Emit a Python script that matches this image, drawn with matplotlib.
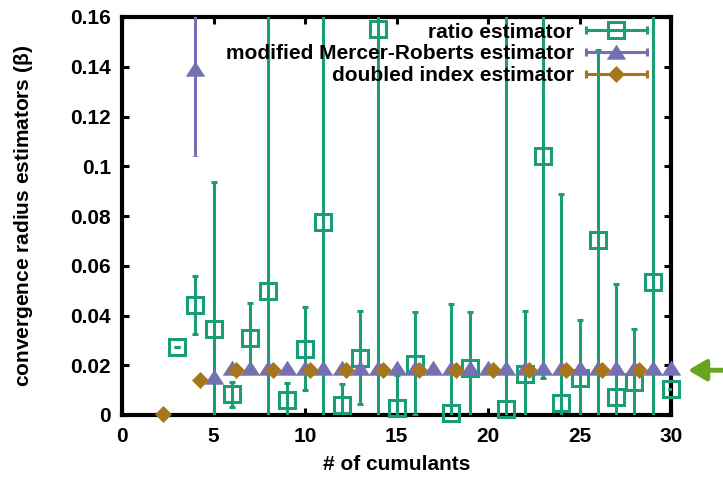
import matplotlib
matplotlib.use("Agg")
import matplotlib.pyplot as plt
from matplotlib.lines import Line2D
from matplotlib.legend_handler import HandlerLine2D, HandlerTuple
from matplotlib.ticker import FuncFormatter

plt.rcParams['font.family'] = ['Liberation Sans', 'DejaVu Sans']
plt.rcParams['font.weight'] = 'bold'
plt.rcParams['font.size'] = 15
plt.rcParams['mathtext.fontset'] = 'custom'
plt.rcParams['mathtext.rm'] = 'Liberation Sans'

# ratio estimator
ratio_n = [3, 4, 5, 6, 7, 8, 9, 10, 11, 12, 13, 14, 15, 16, 18, 19, 21, 22, 23,
           24, 25, 26, 27, 28, 29, 30]
ratio_val = [0.0273, 0.0443, 0.0344, 0.0084, 0.0311, 0.0500, 0.0060, 0.0267,
             0.0776, 0.0040, 0.0231, 0.1550, 0.0027, 0.0207, 0.0007, 0.0187,
             0.0023, 0.0164, 0.1040, 0.0047, 0.0147, 0.0703, 0.0073, 0.0131,
             0.0533, 0.0103]
ratio_err = [0.0, 0.0117, 0.0592, 0.0050, 0.0140, 0.25, 0.0067, 0.0167,
             0.25, 0.0084, 0.0188, 0.25, 0.0133, 0.0206, 0.0440, 0.0226,
             0.25, 0.0256, 0.0893, 0.0840, 0.0233, 0.0764, 0.0454, 0.0216,
             0.25, 0.0]

# modified Mercer-Roberts estimator
mmr_n = [4, 5, 6, 7, 8, 9, 10, 11, 12, 13, 14, 15, 16, 17, 18, 19, 20, 21, 22,
         23, 24, 25, 26, 27, 28, 29, 30]
mmr_val = [0.139, 0.0153, 0.0188, 0.0188, 0.0188, 0.0188, 0.0188, 0.0188,
           0.0188, 0.0188, 0.0188, 0.0188, 0.0188, 0.0188, 0.0188, 0.0188,
           0.0188, 0.0188, 0.0188, 0.0188, 0.0188, 0.0188, 0.0188, 0.0188,
           0.0188, 0.0188, 0.0188]
mmr_err = [0.035, 0.0, 0.0, 0.0, 0.0, 0.0, 0.0, 0.0, 0.0, 0.0, 0.0, 0.0, 0.0,
           0.0, 0.0, 0.0, 0.0, 0.0, 0.0, 0.0, 0.0, 0.0, 0.0, 0.0, 0.0, 0.0, 0.0]

# doubled index estimator (even orders)
dbl_n = [2, 4, 6, 8, 10, 12, 14, 16, 18, 20, 22, 24, 26, 28]
dbl_val = [0.0004, 0.0142, 0.0180, 0.0180, 0.0180, 0.0180, 0.0180, 0.0180,
           0.0180, 0.0180, 0.0180, 0.0180, 0.0180, 0.0180]
dbl_err = [0.0, 0.0, 0.0, 0.0, 0.0, 0.0, 0.0, 0.0, 0.0, 0.0, 0.0, 0.0, 0.0, 0.0]

arrow_y = 0.018

c_ratio = '#1b9e77'
c_mmr = '#7570b3'
c_dbl = '#a6761d'
c_arrow = '#66a61e'

# wide gnuplot-like triangle
tri = [(-1, -0.75), (1, -0.75), (0, 0.8), (-1, -0.75)]

fig = plt.figure(figsize=(7.23, 4.8), dpi=100)
ax = fig.add_axes([122 / 723, 65 / 480, 549 / 723, 398 / 480])

eb_kw = dict(ls='none', elinewidth=2.2, capsize=2.3, capthick=2.2)

r = ax.errorbar(ratio_n, ratio_val, yerr=ratio_err, color=c_ratio, marker='s',
                ms=11, mfc='none', mew=2.2, zorder=3, **eb_kw)
m = ax.errorbar(mmr_n, mmr_val, yerr=mmr_err, color=c_mmr, marker=tri,
                ms=13, mew=0.5, zorder=4, **eb_kw)
d = ax.errorbar([n + 0.25 for n in dbl_n], dbl_val, yerr=dbl_err, color=c_dbl,
                marker='D', ms=8, mew=0.5, zorder=5, **eb_kw)
for cont in (r, m, d):
    cont.lines[0].set_clip_on(False)

ax.set_xlim(0, 30)
ax.set_ylim(0, 0.16)
ax.set_xticks(range(0, 31, 5))
ax.set_yticks([0, 0.02, 0.04, 0.06, 0.08, 0.1, 0.12, 0.14, 0.16])
ax.yaxis.set_major_formatter(FuncFormatter(lambda v, p: '%g' % round(v, 4)))
ax.tick_params(direction='in', length=5, width=2.2, top=True, right=True,
               labelsize=15)
ax.tick_params(axis='x', pad=9)
ax.tick_params(axis='y', pad=8)
for s in ax.spines.values():
    s.set_linewidth(3)

ax.set_xlabel('# of cumulants', fontsize=15, fontweight='bold')
ax.xaxis.set_label_coords(0.5, -0.1)
ax.set_ylabel(r'convergence radius estimators $\mathrm{(\beta)}$',
              fontsize=15, fontweight='bold')
ax.yaxis.set_label_coords(-0.158, 0.5)

ax.annotate('', xy=(1.031, arrow_y), xytext=(1.097, arrow_y),
            xycoords=('axes fraction', 'data'),
            textcoords=('axes fraction', 'data'),
            arrowprops=dict(arrowstyle='-|>,head_length=0.6,head_width=0.35',
                            color=c_arrow, lw=3.5, mutation_scale=18,
                            shrinkA=0, shrinkB=0),
            annotation_clip=False)

# legend: text first, sample line with end caps and marker after it
handles = []
hmap = {tuple: HandlerTuple(ndivide=1)}
for col, mk, ms in ((c_ratio, 's', 11), (c_mmr, tri, 13), (c_dbl, 'D', 8)):
    capline = Line2D([], [], color=col, lw=2.2, marker='|', ms=6, mew=2.2)
    if mk == 's':
        pt = Line2D([], [], ls='none', color=col, marker=mk, ms=ms,
                    mfc='none', mew=2.2)
    else:
        pt = Line2D([], [], ls='none', color=col, marker=mk, ms=ms, mew=0.5)
    hmap[capline] = HandlerLine2D(numpoints=2, marker_pad=0)
    hmap[pt] = HandlerLine2D(numpoints=1)
    handles.append((capline, pt))

ax.legend(handles, ['ratio estimator', 'modified Mercer-Roberts estimator',
                    'doubled index estimator'],
          handler_map=hmap, loc='upper right', bbox_to_anchor=(0.9557, 0.986),
          borderaxespad=0, borderpad=0, frameon=False, markerfirst=False,
          handlelength=2.9, handletextpad=0.6, labelspacing=0.135,
          prop={'weight': 'bold', 'size': 15})

fig.savefig('out.png', dpi=100)
